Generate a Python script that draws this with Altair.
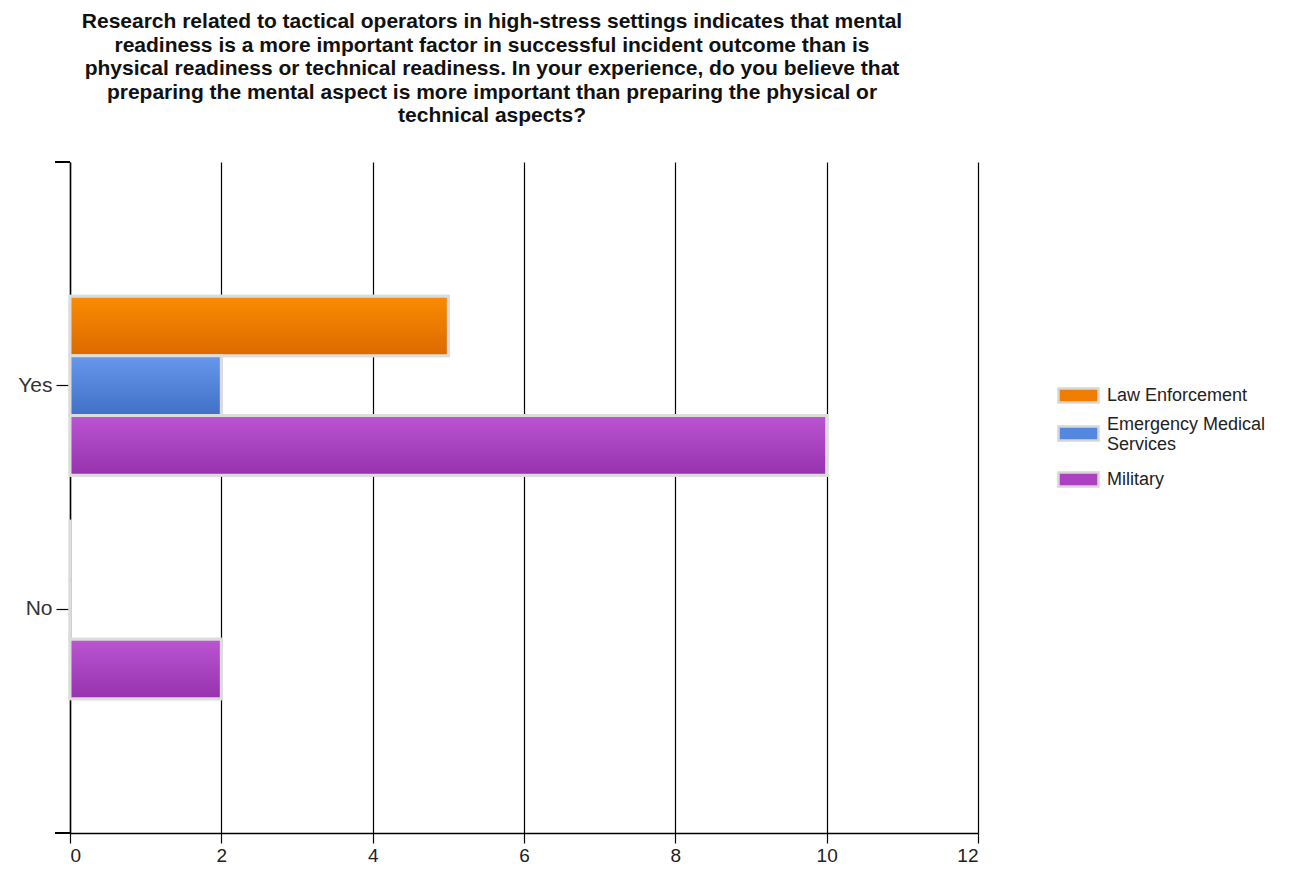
import altair as alt
import pandas as pd

categories = ["Yes", "No"]
series = ["Law Enforcement", "Emergency Medical Services", "Military"]
yes_values = [5, 2, 10]
no_values = [0, 0, 2]
x_ticks = [0, 2, 4, 6, 8, 10, 12]

solid = ["#ee7d00", "#5488e0", "#ab42c2"]
grad_top = ["#fa8c02", "#6898ee", "#bb55d2"]
grad_bot = ["#db6a00", "#3f70c6", "#9632ae"]

rows = []
for s, v in zip(series, yes_values):
    rows.append({"answer": "Yes", "group": s, "count": v})
for s, v in zip(series, no_values):
    rows.append({"answer": "No", "group": s, "count": v})
df = pd.DataFrame(rows)

FONT = "Liberation Sans"
W, H = 908, 671

x_enc = alt.X("count:Q", scale=alt.Scale(domain=[0, 12], nice=False),
              axis=alt.Axis(values=x_ticks, title=None, grid=True, gridColor="#000000",
                            gridWidth=1.2, domainColor="#000000", domainWidth=1.5,
                            tickColor="#000000", tickSize=10, tickWidth=1.2,
                            labelFont=FONT, labelFontSize=19, labelColor="#222222",
                            labelPadding=3))
y_enc = alt.Y("answer:N", sort=categories,
              scale=alt.Scale(paddingInner=0.2, paddingOuter=0.6),
              axis=alt.Axis(title=None, domainColor="#000000", domainWidth=1.5,
                            tickColor="#000000", tickSize=14, tickWidth=1.2,
                            labelFont=FONT, labelFontSize=21, labelColor="#333333",
                            labelPadding=4))
yoff_enc = alt.YOffset("group:N", sort=series, scale=alt.Scale(paddingInner=0, paddingOuter=0))

base = alt.Chart(df).mark_bar(stroke="#dcdcdc", strokeWidth=3).encode(
    x=x_enc, y=y_enc, yOffset=yoff_enc,
    color=alt.Color("group:N", sort=series,
                    scale=alt.Scale(domain=series, range=solid),
                    legend=alt.Legend(
                        title=None, orient="none", legendX=987, legendY=212,
                        symbolType="M-1,-0.35L1,-0.35L1,0.35L-1,0.35Z",
                        symbolSize=1600, symbolStrokeColor="#d6d6d6", symbolStrokeWidth=2.5,
                        symbolOpacity=1,
                        labelFont=FONT, labelFontSize=18, labelColor="#222222",
                        labelOffset=7, rowPadding=4,
                        labelBaseline=alt.ExprRef(expr="datum.value == 'Emergency Medical Services' ? 'bottom' : 'middle'"),
                        labelExpr="datum.label == 'Emergency Medical Services' ? ['Emergency Medical', 'Services'] : datum.label",
                    ))
)

layers = [base]
for s, top, bot in zip(series, grad_top, grad_bot):
    g = alt.Gradient(gradient="linear",
                     stops=[alt.GradientStop(color=top, offset=0),
                            alt.GradientStop(color=bot, offset=1)],
                     x1=0, x2=0, y1=0, y2=1)
    layers.append(
        alt.Chart(df).transform_filter(alt.datum.group == s)
        .mark_bar(color=g, stroke="#dcdcdc", strokeWidth=3)
        .encode(x=x_enc, y=y_enc, yOffset=yoff_enc)
    )

corner_top = alt.Chart(df).mark_rule(color="#000000", strokeWidth=1.5).encode(
    x=alt.value(-15), x2=alt.value(0), y=alt.value(0)
)
corner_bot = alt.Chart(df).mark_rule(color="#000000", strokeWidth=1.5).encode(
    x=alt.value(-15), x2=alt.value(0), y=alt.value(H)
)
layers += [corner_top, corner_bot]

title_lines = [
    "Research related to tactical operators in high-stress settings indicates that mental",
    "readiness is a more important factor in successful incident outcome than is",
    "physical readiness or technical readiness. In your experience, do you believe that",
    "preparing the mental aspect is more important than preparing the physical or",
    "technical aspects?",
]

chart = alt.layer(*layers).properties(
    width=W, height=H,
    title=alt.TitleParams(text=title_lines, anchor="middle", dx=-32, offset=35,
                          font=FONT, fontSize=21, fontWeight="bold", color="#111111",
                          lineHeight=23.5),
    autosize=alt.AutoSizeParams(type="none"),
    padding={"left": 62, "top": 154, "right": 300, "bottom": 35},
).configure_view(stroke=None)

chart.save("out.html", embed_options={"renderer": "svg", "actions": False})
